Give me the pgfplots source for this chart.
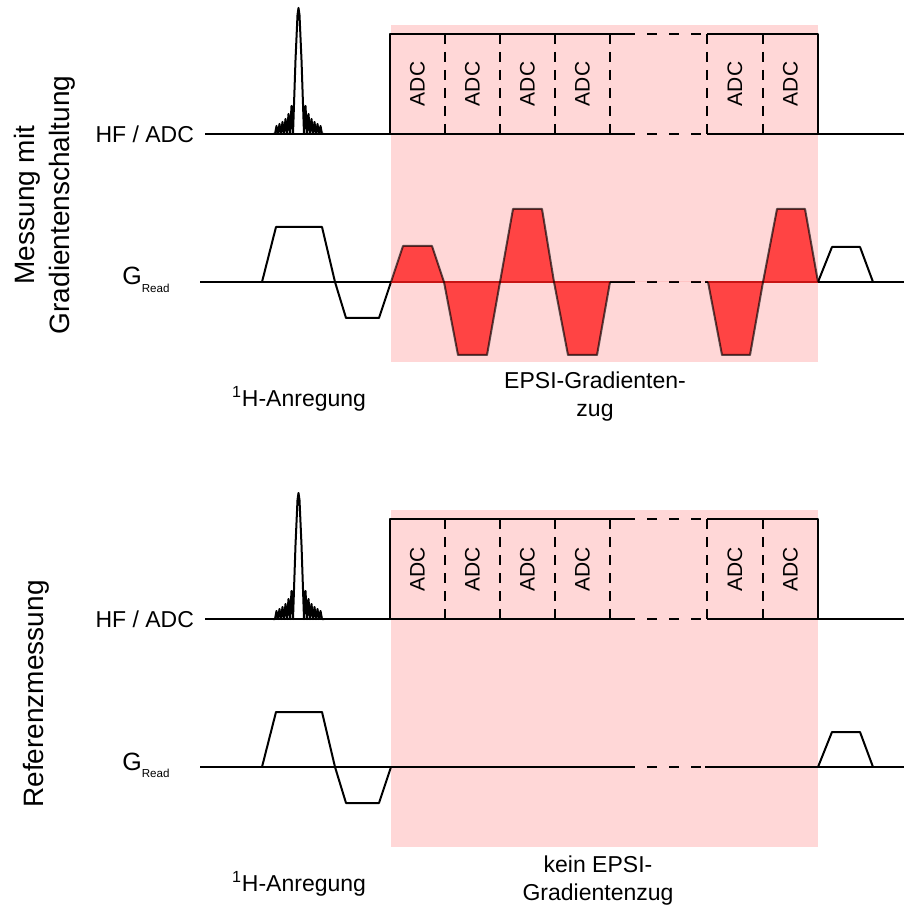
\documentclass[border=0pt]{standalone}
\usepackage{pgfplots}
\pgfplotsset{compat=1.18}
\usepackage{fontspec}
\setmainfont{Liberation Sans}
\definecolor{pinkbg}{RGB}{255,215,215}
\definecolor{epsired}{RGB}{255,68,68}
\definecolor{darkred}{RGB}{200,20,20}
\newcommand{\lab}{\fontsize{11.5}{14}\selectfont}
\newcommand{\adc}{\fontsize{10.5}{12}\selectfont}
\newcommand{\side}{\fontsize{14}{17.5}\selectfont}
\newcommand{\GRead}{{\fontsize{12.5}{14}\selectfont G}\raisebox{-0.6ex}{\fontsize{5.8}{6}\selectfont Read}}
\begin{document}
\begin{tikzpicture}
\begin{axis}[name=ax,
  scale only axis, width=452pt, height=454pt,
  xmin=0, xmax=904, ymin=0, ymax=908, y dir=reverse,
  hide axis, clip=false,
  every axis plot/.append style={line width=1pt, line join=round},
]
% ---------- pink regions
\addplot[draw=none, fill=pinkbg] coordinates {(391,25)(818,25)(818,362)(391,362)} -- cycle;
\addplot[draw=none, fill=pinkbg] coordinates {(391,510)(818,510)(818,847)(391,847)} -- cycle;

% ================= TOP PANEL =================
\addplot[black] coordinates {(205,134)(625,134)};
\addplot[black, dash pattern=on 5pt off 6pt] coordinates {(625,134)(707,134)};
\addplot[black] coordinates {(707,134)(904,134)};
\addplot[black] coordinates {(390,134)(390,34)(625,34)};
\addplot[black, dash pattern=on 5pt off 6pt] coordinates {(625,34)(707,34)};
\addplot[black] coordinates {(707,34)(818,34)(818,134)};
\addplot[black, dash pattern=on 5pt off 4pt] coordinates {(445,34)(445,134)};
\addplot[black, dash pattern=on 5pt off 4pt] coordinates {(500,34)(500,134)};
\addplot[black, dash pattern=on 5pt off 4pt] coordinates {(555,34)(555,134)};
\addplot[black, dash pattern=on 5pt off 4pt] coordinates {(610,34)(610,134)};
\addplot[black, dash pattern=on 5pt off 4pt] coordinates {(707,34)(707,134)};
\addplot[black, dash pattern=on 5pt off 4pt] coordinates {(763,34)(763,134)};
\addplot[black] coordinates {(273,134)(275,134)(276.5,126)(278,134)(279.5,124)(281,134)(282.5,122)(284,134)(285.5,119)(287,134)(288.5,114)(290,134)(291.5,106)(293,134)(295.5,60)(297.5,15)(298.5,8)(299.5,15)(301.5,60)(304,134)(305.5,106)(307,134)(308.5,114)(310,134)(311.5,119)(313,134)(314.5,122)(316,134)(317.5,124)(319,134)(320.5,126)(322,134)(324,134)};
\addplot[black] coordinates {(200,282)(625,282)};
\addplot[black, dash pattern=on 5pt off 6pt] coordinates {(625,282)(705,282)};
\addplot[black] coordinates {(705,282)(904,282)};
\addplot[black] coordinates {(262,282)(276,227)(322,227)(335,282)(346,318)(379,318)(391,282)};
\addplot[black] coordinates {(818,282)(832,247)(860,247)(873,282)};
\addplot[draw=none, fill=epsired] coordinates {(391,282)(403,246)(432,246)(444,282)(458,355)(487,355)(500,282)(513,209)(542,209)(554,282)(568,355)(597,355)(610,282)(708,282)(722,355)(750,355)(763,282)(777,209)(805,209)(818,282)} -- cycle;
\addplot[darkred] coordinates {(391,282)(610,282)};
\addplot[darkred] coordinates {(708,282)(818,282)};
\addplot[black, draw opacity=0.65] coordinates {(391,282)(403,246)(432,246)(444,282)(458,355)(487,355)(500,282)(513,209)(542,209)(554,282)(568,355)(597,355)(610,282)};
\addplot[black, draw opacity=0.65] coordinates {(708,282)(722,355)(750,355)(763,282)(777,209)(805,209)(818,282)};

% ================= BOTTOM PANEL =================
\addplot[black] coordinates {(205,619)(625,619)};
\addplot[black, dash pattern=on 5pt off 6pt] coordinates {(625,619)(707,619)};
\addplot[black] coordinates {(707,619)(904,619)};
\addplot[black] coordinates {(390,619)(390,519)(625,519)};
\addplot[black, dash pattern=on 5pt off 6pt] coordinates {(625,519)(707,519)};
\addplot[black] coordinates {(707,519)(818,519)(818,619)};
\addplot[black, dash pattern=on 5pt off 4pt] coordinates {(445,519)(445,619)};
\addplot[black, dash pattern=on 5pt off 4pt] coordinates {(500,519)(500,619)};
\addplot[black, dash pattern=on 5pt off 4pt] coordinates {(555,519)(555,619)};
\addplot[black, dash pattern=on 5pt off 4pt] coordinates {(610,519)(610,619)};
\addplot[black, dash pattern=on 5pt off 4pt] coordinates {(707,519)(707,619)};
\addplot[black, dash pattern=on 5pt off 4pt] coordinates {(763,519)(763,619)};
\addplot[black] coordinates {(273,619)(275,619)(276.5,611)(278,619)(279.5,609)(281,619)(282.5,607)(284,619)(285.5,604)(287,619)(288.5,599)(290,619)(291.5,591)(293,619)(295.5,545)(297.5,500)(298.5,493)(299.5,500)(301.5,545)(304,619)(305.5,591)(307,619)(308.5,599)(310,619)(311.5,604)(313,619)(314.5,607)(316,619)(317.5,609)(319,619)(320.5,611)(322,619)(324,619)};
\addplot[black] coordinates {(200,767)(625,767)};
\addplot[black, dash pattern=on 5pt off 6pt] coordinates {(625,767)(705,767)};
\addplot[black] coordinates {(705,767)(904,767)};
\addplot[black] coordinates {(262,767)(276,712)(322,712)(335,767)(346,803)(379,803)(391,767)};
\addplot[black] coordinates {(818,767)(832,732)(860,732)(873,767)};

% ================= TEXT =================
\foreach \x in {417.5,472.5,527.5,582.5,735,790.5} {
  \edef\tmp{\noexpand\node[rotate=90, font=\noexpand\adc] at (axis cs:\x,84) {ADC};
            \noexpand\node[rotate=90, font=\noexpand\adc] at (axis cs:\x,569) {ADC};}
  \tmp
}
\node[anchor=east, font=\lab] at (axis cs:201,134) {HF / ADC};
\node[anchor=east, font=\lab] at (axis cs:201,619) {HF / ADC};
\node[anchor=base west, font=\lab, inner sep=0pt] at (axis cs:122,285) {\GRead};
\node[anchor=base west, font=\lab, inner sep=0pt] at (axis cs:122,770) {\GRead};
\node[font=\lab] at (axis cs:299,399) {\textsuperscript{1}H-Anregung};
\node[font=\lab] at (axis cs:299,884) {\textsuperscript{1}H-Anregung};
\node[font=\lab, align=center] at (axis cs:595,397) {EPSI-Gradienten-\\zug};
\node[font=\lab, align=center] at (axis cs:598,881) {kein EPSI-\\Gradientenzug};
\node[font=\side, align=center, rotate=90] at (axis cs:45,205) {Messung mit\\Gradientenschaltung};
\node[font=\side, rotate=90] at (axis cs:36,694) {Referenzmessung};
\end{axis}
\pgfresetboundingbox
\useasboundingbox (ax.south west) rectangle (ax.north east);
\end{tikzpicture}
\end{document}
